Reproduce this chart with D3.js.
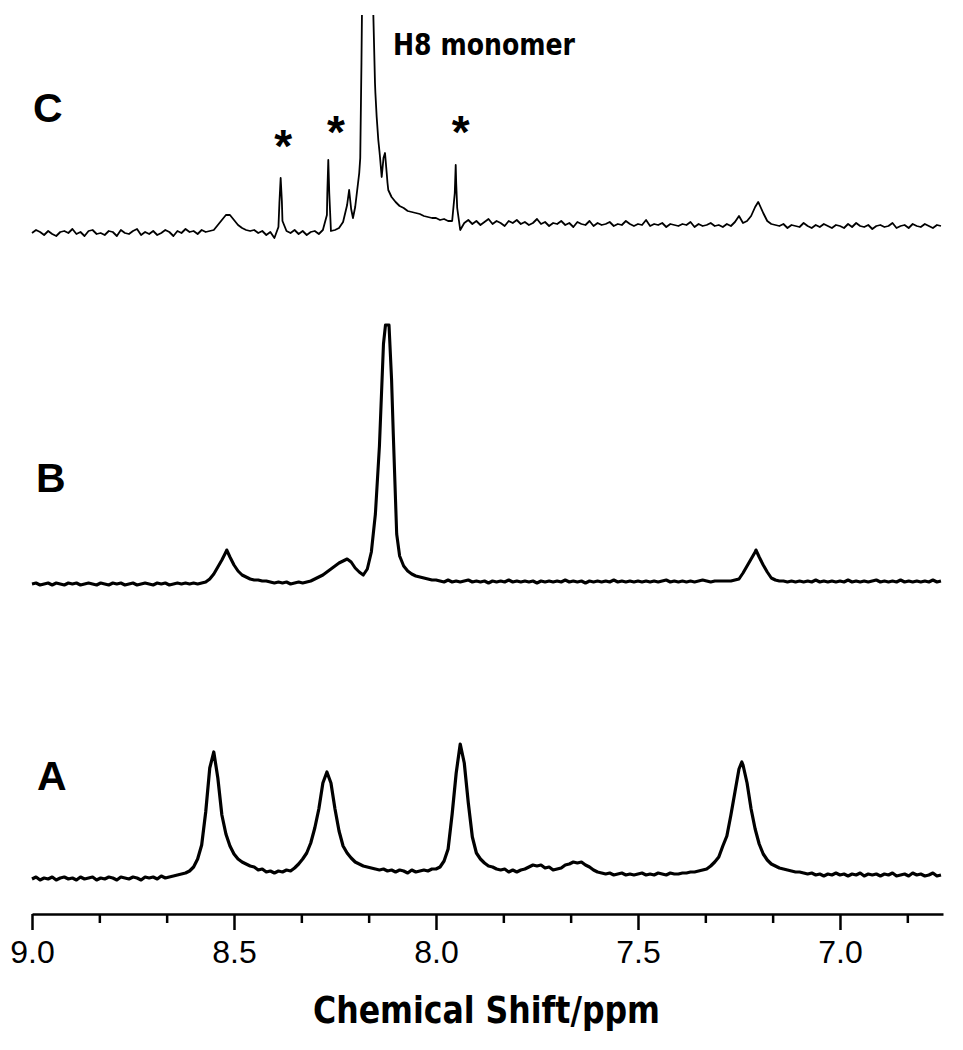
<!DOCTYPE html>
<html>
<head>
<meta charset="utf-8">
<script src="https://cdn.jsdelivr.net/npm/d3@7"></script>
<style>
  body { margin: 0; background: #ffffff; }
</style>
</head>
<body>
<svg id="chart" width="963" height="1050"></svg>
<script>
// ---------------- DATA ----------------
const ppmStart = 9.00;
const ppmStep = 0.01;

const specA = [
  0,2,-1,1,0,2,-1,1,2,0,
  1,-1,2,0,1,2,-1,1,0,2,
  1,-1,2,1,0,2,1,-1,2,1,
  2,0,3,1,2,3,4,5,6,8,
  12,20,34,67,111,127,101,64,45,33,
  25,20,17,15,13,12,9,10,7,8,
  6,8,7,9,8,11,15,20,26,36,
  51,70,96,107,96,70,48,33,26,21,
  17,15,13,12,11,10,9,10,8,9,
  7,9,8,6,9,7,8,9,8,10,
  10,12,18,30,65,106,135,116,76,42,
  26,20,16,13,12,10,9,10,7,9,
  7,9,10,12,14,13,14,11,12,9,
  10,11,14,15,17,16,17,14,12,9,
  7,6,5,6,4,5,6,4,5,4,
  5,6,4,5,4,6,5,4,6,5,
  5,6,6,7,7,8,9,10,13,17,
  22,33,43,64,87,110,114,96,70,50,
  35,25,19,15,13,11,10,9,8,7,
  7,6,5,6,4,5,3,5,4,6,
  4,5,3,5,4,6,3,5,4,5,
  3,5,4,6,3,4,5,3,6,4,
  5,3,4,6,3,4
];
const specB = [
  0,1,-1,0,1,-1,1,0,-1,1,
  0,1,-1,0,1,0,-1,1,0,-1,
  1,0,1,-1,0,1,-1,0,1,0,
  -1,1,0,1,-1,0,1,0,1,0,
  1,0,1,2,5,10,17,24,32,27,
  19,13,9,7,5,4,4,3,3,2,
  1,2,1,2,0,1,2,1,2,3,
  5,7,9,12,15,18,21,23,25,22,
  16,12,9,15,32,70,138,240,259,205,
  82,28,18,13,10,8,7,6,5,4,
  4,3,2,4,2,3,2,3,4,2,
  3,2,3,1,3,2,3,2,4,2,
  3,2,3,2,3,1,3,2,3,2,
  3,2,4,2,3,2,3,1,3,2,
  3,2,3,2,4,2,3,2,3,2,
  3,2,3,2,3,2,3,4,2,3,
  2,3,2,3,2,3,4,3,2,3,
  3,3,3,3,4,5,11,18,25,32,
  27,19,12,6,4,3,3,2,3,2,
  3,2,3,2,4,2,3,2,3,2,
  3,2,4,2,3,2,3,2,3,4,
  2,3,2,3,2,4,2,3,2,3,
  2,3,2,4,2,3
];
const specC = [
  0,3,1,-2,2,-1,-3,1,2,0,
  4,-1,1,-3,2,3,-1,0,-2,2,
  1,-3,3,0,-1,2,4,-2,1,-1,
  2,-2,0,3,1,-3,2,0,4,1,
  2,-1,3,1,2,3,8,13,18,18,
  13,8,5,3,2,3,0,2,-2,1,
  -5,6,12,2,0,3,-1,2,-2,1,
  2,-1,3,18,2,3,5,11,28,24,
  26,60,330,600,320,140,82,75,50,36,
  31,27,25,22,21,20,19,17,16,15,
  15,13,14,12,12,50,3,10,13,9,
  12,8,11,14,9,12,10,7,12,10,
  13,9,11,8,10,14,9,11,7,10,
  9,12,8,10,6,11,9,8,12,7,
  10,8,9,11,7,9,8,12,9,7,
  9,8,13,7,9,8,10,6,9,8,
  7,9,8,11,6,9,7,8,10,7,
  8,6,9,7,11,17,10,12,17,26,
  29,20,12,9,8,7,9,5,8,7,
  6,10,7,5,8,6,9,7,5,8,
  7,5,9,6,10,7,6,8,4,7,
  8,6,7,10,5,7,8,5,9,7,
  6,9,7,5,8,7
];

// Extra [ppm, intensity] points for sharp lines that fall between grid samples
const extraA = [[7.243, 117]];
const extraB = [[8.518, 34], [8.125, 259], [8.1163, 259], [8.1057, 150], [8.0973, 50], [7.208, 34]];
const extraC = [
  [8.3876, 30], [8.3845, 55], [8.3815, 32],
  [8.2690, 40], [8.2666, 73], [8.2642, 40],
  [8.2150, 43], [8.2055, 15],
  [8.1875, 75], [8.1845, 170], [8.1830, 230], [8.1770, 420], [8.1630, 420], [8.1555, 225], [8.1510, 150],
  [8.1468, 116], [8.1428, 93], [8.1386, 76], [8.1344, 56], [8.1304, 73], [8.1262, 80], [8.1220, 60], [8.1181, 43],
  [7.9535, 40], [7.9512, 68], [7.9475, 25],
  [7.2025, 31]
];

const traceNames = ["A", "B", "C"];
const traceOffsets = [0, 295, 646];     // vertical stacking offsets (intensity units)

const majorTicks = [9.0, 8.5, 8.0, 7.5, 7.0];
const minorTicks = [8.8333, 8.6667, 8.3333, 8.1667, 7.8333, 7.6667, 7.3333, 7.1667, 6.8333];
const ppmDomain = [9.0, 6.745];

const starPpm = [8.378, 8.2475, 7.939];
const starHeight = [96, 110, 110];       // above trace C baseline
const monomerLabel = "H8 monomer";
const axisTitle = "Chemical Shift/ppm";

// ---------------- DRAWING ----------------
const svg = d3.select("#chart");
svg.append("rect").attr("width", 963).attr("height", 1050).attr("fill", "#fff");

const x = d3.scaleLinear().domain(ppmDomain).range([32, 943]);
const y = d3.scaleLinear().domain([0, 879]).range([879, 0]);

svg.append("clipPath").attr("id", "plotclip")
  .append("rect").attr("x", 0).attr("y", 15).attr("width", 963).attr("height", 1035);

const specs = [specA, specB, specC];
const extras = [extraA, extraB, extraC];
const strokeW = [3.2, 3.1, 1.8];

const line = d3.line().x(d => x(d[0])).y(d => y(d[1]));

specs.forEach((arr, k) => {
  const pts = arr.map((v, i) => [+(ppmStart - i * ppmStep).toFixed(4), v])
    .concat(extras[k])
    .sort((a, b) => b[0] - a[0])
    .map(d => [d[0], d[1] + traceOffsets[k]]);
  svg.append("path")
    .datum(pts)
    .attr("clip-path", "url(#plotclip)")
    .attr("fill", "none")
    .attr("stroke", "#000")
    .attr("stroke-width", strokeW[k])
    .attr("stroke-linejoin", "round")
    .attr("d", line);
});

// series labels
const labelPos = { A: [37, 790], B: [36, 492], C: [33, 121.5] };
traceNames.forEach(n => {
  svg.append("text")
    .attr("x", labelPos[n][0]).attr("y", labelPos[n][1])
    .attr("font-family", "Liberation Sans, Arial, sans-serif")
    .attr("font-weight", "bold")
    .attr("font-size", 41)
    .text(n);
});

// asterisks
starPpm.forEach((p, i) => {
  svg.append("text")
    .attr("x", x(p))
    .attr("y", y(traceOffsets[2] + starHeight[i]) + 25)
    .attr("text-anchor", "middle")
    .attr("font-family", "Liberation Sans, Arial, sans-serif")
    .attr("font-weight", "bold")
    .attr("font-size", 46)
    .text("*");
});

// H8 monomer
svg.append("text")
  .attr("x", 393).attr("y", 55)
  .attr("font-family", "DejaVu Sans, Verdana, sans-serif")
  .attr("font-weight", "bold")
  .attr("font-size", 30)
  .attr("textLength", 182)
  .attr("lengthAdjust", "spacingAndGlyphs")
  .text(monomerLabel);

// axis
const axisG = svg.append("g").attr("transform", "translate(0,914)");
axisG.call(d3.axisBottom(x).tickValues(majorTicks).tickSize(16).tickSizeOuter(0)
  .tickPadding(10).tickFormat(d3.format(".1f")));
axisG.select(".domain").attr("stroke-width", 2.5);
axisG.selectAll(".tick line").attr("stroke-width", 2.5);
axisG.selectAll(".tick text")
  .attr("font-family", "Liberation Sans, Arial, sans-serif")
  .attr("font-size", 32)
  .attr("fill", "#000");

const minorG = svg.append("g").attr("transform", "translate(0,914)");
minorG.call(d3.axisBottom(x).tickValues(minorTicks).tickSize(9).tickSizeOuter(0).tickFormat(""));
minorG.select(".domain").remove();
minorG.selectAll(".tick line").attr("stroke-width", 2.5);

svg.append("text")
  .attr("x", 313).attr("y", 1023)
  .attr("font-family", "DejaVu Sans, Verdana, sans-serif")
  .attr("font-weight", "bold")
  .attr("font-size", 38)
  .attr("textLength", 347)
  .attr("lengthAdjust", "spacingAndGlyphs")
  .text(axisTitle);
</script>
</body>
</html>
